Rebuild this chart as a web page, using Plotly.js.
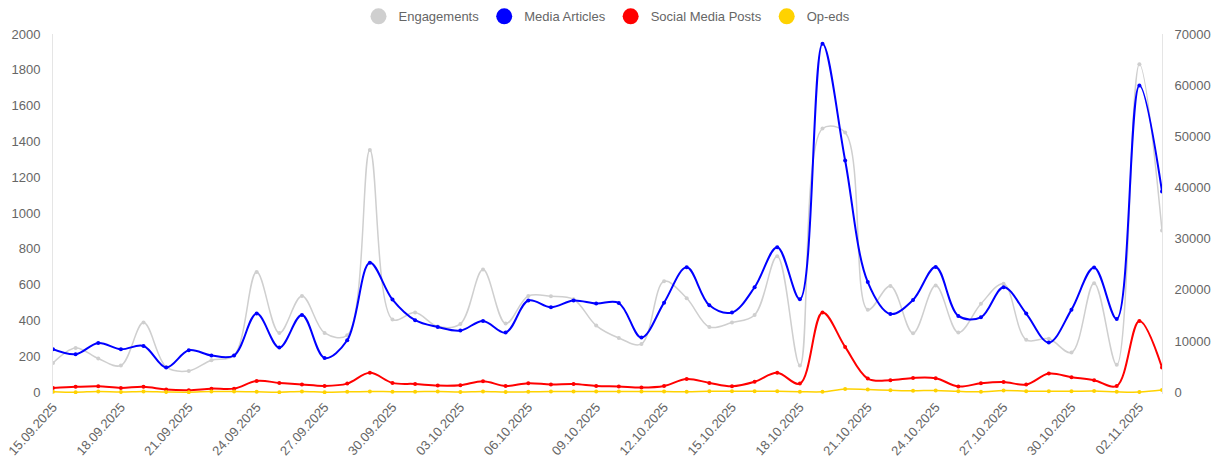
<!DOCTYPE html>
<html>
<head>
<meta charset="utf-8">
<script src="https://cdn.plot.ly/plotly-3.0.1.min.js"></script>
<style>html,body{margin:0;padding:0;background:#fff;}#chart{width:1214px;height:457px;}</style>
</head>
<body>
<div id="chart"></div>
<script>
const dates = [
 "2025-09-15","2025-09-16","2025-09-17","2025-09-18","2025-09-19","2025-09-20","2025-09-21","2025-09-22","2025-09-23","2025-09-24",
 "2025-09-25","2025-09-26","2025-09-27","2025-09-28","2025-09-29","2025-09-30","2025-10-01","2025-10-02","2025-10-03","2025-10-04",
 "2025-10-05","2025-10-06","2025-10-07","2025-10-08","2025-10-09","2025-10-10","2025-10-11","2025-10-12","2025-10-13","2025-10-14",
 "2025-10-15","2025-10-16","2025-10-17","2025-10-18","2025-10-19","2025-10-20","2025-10-21","2025-10-22","2025-10-23","2025-10-24",
 "2025-10-25","2025-10-26","2025-10-27","2025-10-28","2025-10-29","2025-10-30","2025-10-31","2025-11-01","2025-11-02","2025-11-03"
];
const engagements = [
 5720,8650,6580,5210,13610,4940,4160,6250,7170,23500,
 11580,18810,11580,11130,47320,14200,15560,12830,13340,23960,
 13410,18810,18750,18160,13020,10600,9430,21680,18360,12750,
 13610,15100,26560,5210,51530,50740,16100,20770,11530,20830,
 11660,17270,21180,10240,10430,7760,21300,5350,64090,31600
];
const mediaArticles = [
 240,212,275,240,258,138,234,205,205,439,
 249,431,191,290,723,517,402,364,344,398,
 333,512,474,512,495,498,305,500,697,485,
 445,586,809,519,1945,1294,615,437,515,699,
 426,418,586,439,277,461,696,409,1713,1121
];
const socialPosts = [
 24,30,33,24,30,15,11,20,20,63,
 52,43,35,48,108,52,46,37,39,61,
 35,50,43,46,35,32,26,35,74,52,
 33,58,108,48,445,253,76,67,80,78,
 32,50,57,43,104,84,67,35,398,138
];
const opEds = [
 3,0,4,1,4,1,0,4,4,2,
 0,4,0,2,4,3,3,4,1,4,
 1,2,4,4,4,4,4,4,2,5,
 5,5,5,3,2,18,15,11,8,10,
 5,3,9,6,5,5,7,2,1,12
];
const seriesNames = ["Engagements","Media Articles","Social Media Posts","Op-eds"];
const seriesColors = ["#cfcfcf","#0000ff","#ff0000","#ffd200"];

const font = "Liberation Sans, Arial, sans-serif";
const grey = "#666666";

function line(y, i, axis, width) {
  return {
    x: dates, y: y, yaxis: axis, type: "scatter", mode: "lines+markers",
    name: seriesNames[i], showlegend: false, hoverinfo: "x+y",
    line: {color: seriesColors[i], width: width, shape: "spline", smoothing: 1},
    marker: {color: seriesColors[i], size: 4}
  };
}
const traces = [
  line(engagements, 0, "y", 1.5),
  line(mediaArticles, 1, "y2", 2),
  line(socialPosts, 2, "y2", 2),
  line(opEds, 3, "y2", 1.5)
];
seriesNames.forEach(function(n, i){
  traces.push({x:[null], y:[null], type:"scatter", mode:"markers", name:n, showlegend:true,
    marker:{color: seriesColors[i], size:16}, yaxis:"y2"});
});

const layout = {
  width: 1214, height: 457,
  margin: {l: 53, r: 52, t: 33.5, b: 63.2, autoexpand: false},
  paper_bgcolor: "#fff", plot_bgcolor: "#fff",
  font: {family: font, color: grey, size: 13},
  showlegend: true,
  legend: {orientation: "h", x: 0.5, xanchor: "center", xref: "container",
           y: 0.997, yanchor: "top", yref: "container",
           font: {family: font, size: 13, color: grey}, itemsizing: "trace",
           itemwidth: 30, tracegroupgap: 0},
  xaxis: {
    type: "date", range: ["2025-09-15", "2025-11-03"],
    tick0: "2025-09-15", dtick: 3 * 86400000, tickformat: "%d.%m.%Y",
    tickangle: -48, showgrid: false, zeroline: false, showline: false,
    ticks: "", tickfont: {family: font, size: 13, color: grey}, ticklabelstandoff: 2
  },
  yaxis: {
    side: "right", range: [-350, 70000], tickvals: [0,10000,20000,30000,40000,50000,60000,70000],
    ticktext: ["0","10000","20000","30000","40000","50000","60000","70000"],
    showgrid: false, zeroline: false, showline: true, linecolor: "#e5e5e5", linewidth: 1,
    ticks: "", tickfont: {family: font, size: 13, color: grey}, ticklabelstandoff: 9
  },
  yaxis2: {
    side: "left", overlaying: "y", range: [-10, 2000],
    tickvals: [0,200,400,600,800,1000,1200,1400,1600,1800,2000],
    showgrid: false, zeroline: false, showline: true, linecolor: "#e5e5e5", linewidth: 1,
    ticks: "", tickfont: {family: font, size: 13, color: grey}, ticklabelstandoff: 9
  }
};
Plotly.newPlot("chart", traces, layout, {displayModeBar: false, responsive: false});
</script>
</body>
</html>
